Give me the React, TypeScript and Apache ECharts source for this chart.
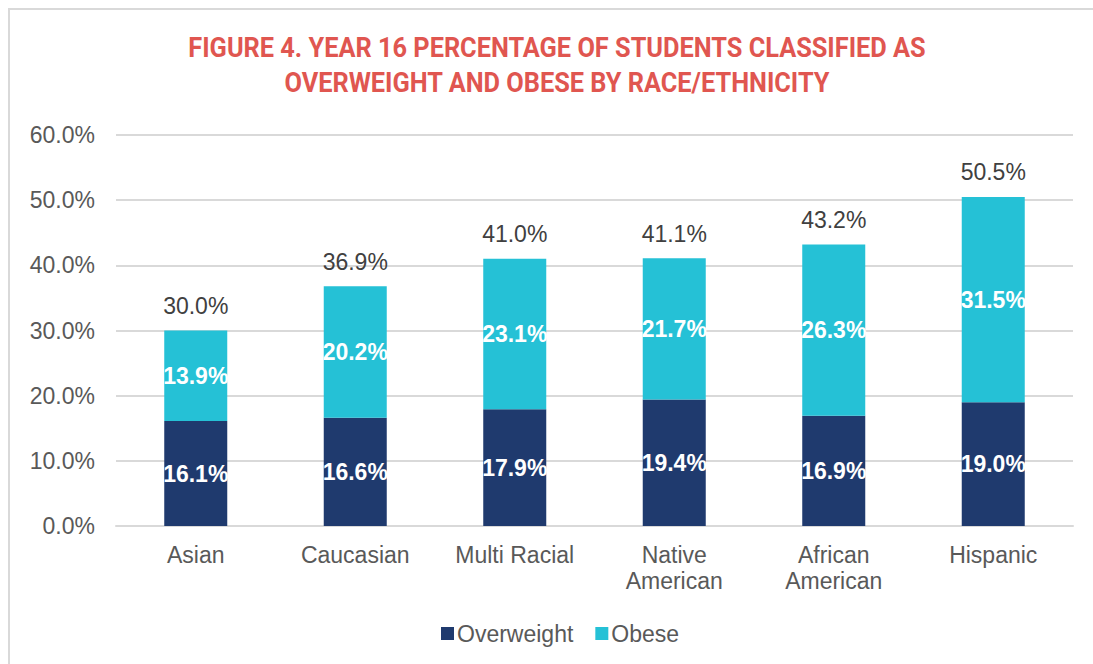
import React, { useEffect, useRef } from 'react';
import * as echarts from 'echarts';

const categories = ['Asian', 'Caucasian', 'Multi Racial', 'Native\nAmerican', 'African\nAmerican', 'Hispanic'];
const overweight = [16.1, 16.6, 17.9, 19.4, 16.9, 19.0];
const obese = [13.9, 20.2, 23.1, 21.7, 26.3, 31.5];
const totals = [30.0, 36.9, 41.0, 41.1, 43.2, 50.5];
const seriesNames = ['Overweight', 'Obese'];
const titleLines = [
  'FIGURE 4. YEAR 16 PERCENTAGE OF STUDENTS CLASSIFIED AS',
  'OVERWEIGHT AND OBESE BY RACE/ETHNICITY',
];

const FONT = '"Liberation Sans", Arial, sans-serif';

export default function App() {
  const ref = useRef<HTMLDivElement>(null);
  useEffect(() => {
    if (!ref.current) return;
    const chart = echarts.init(ref.current, null, { renderer: 'svg' });
    const titleEls = titleLines.map((t, i) => ({
      type: 'text',
      x: 557,
      y: 48 + i * 35,
      scaleX: 0.905,
      style: {
        text: t,
        x: 0,
        y: 0,
        align: 'center',
        verticalAlign: 'middle',
        fontFamily: 'Roboto, sans-serif',
        fontSize: 28,
        fontWeight: 'bold',
        fill: '#E05650',
      },
    }));
    chart.setOption({
      animation: false,
      backgroundColor: '#ffffff',
      graphic: [
        {
          type: 'rect',
          z: -10,
          shape: { x: 9, y: 9, width: 1200, height: 800 },
          style: { fill: 'none', stroke: '#d9d9d9', lineWidth: 2 },
        },
        ...titleEls,
      ],
      legend: {
        data: seriesNames,
        left: 436,
        top: 617,
        itemWidth: 13,
        itemHeight: 13,
        itemGap: 22,
        icon: 'rect',
        textStyle: { fontFamily: FONT, fontSize: 23, color: '#595959', padding: [0, 0, 0, -2] },
      },
      grid: { left: 116, right: 20, top: 135, bottom: 138, containLabel: false },
      xAxis: {
        type: 'category',
        data: categories,
        axisTick: { show: false },
        axisLine: { lineStyle: { color: '#d9d9d9', width: 2 } },
        axisLabel: {
          fontFamily: FONT,
          fontSize: 23,
          color: '#595959',
          margin: 16,
          lineHeight: 26,
          interval: 0,
        },
      },
      yAxis: {
        type: 'value',
        min: 0,
        max: 60,
        interval: 10,
        axisLine: { show: false },
        axisTick: { show: false },
        splitLine: { lineStyle: { color: '#d9d9d9', width: 2 } },
        axisLabel: {
          fontFamily: FONT,
          fontSize: 23,
          color: '#595959',
          margin: 21,
          formatter: (v: number) => v.toFixed(1) + '%',
        },
      },
      series: [
        {
          name: seriesNames[0],
          type: 'bar',
          stack: 'total',
          barWidth: '39.5%',
          data: overweight,
          itemStyle: { color: '#1F3A6E' },
          label: {
            show: true,
            position: 'inside',
            color: '#ffffff',
            fontFamily: FONT,
            fontWeight: 'bold',
            fontSize: 23,
            formatter: (p: any) => Number(p.value).toFixed(1) + '%',
          },
        },
        {
          name: seriesNames[1],
          type: 'bar',
          stack: 'total',
          data: obese,
          itemStyle: { color: '#25C1D6' },
          label: {
            show: true,
            position: 'inside',
            color: '#ffffff',
            fontFamily: FONT,
            fontWeight: 'bold',
            fontSize: 23,
            formatter: (p: any) => Number(p.value).toFixed(1) + '%',
          },
        },
        {
          name: 'Total',
          type: 'bar',
          stack: 'total',
          data: totals.map(() => 0),
          itemStyle: { color: 'transparent' },
          label: {
            show: true,
            position: 'top',
            distance: 13,
            color: '#404040',
            fontFamily: FONT,
            fontSize: 23,
            formatter: (p: any) => totals[p.dataIndex].toFixed(1) + '%',
          },
        },
      ],
    });
    return () => chart.dispose();
  }, []);
  return (
    <div
      ref={ref}
      style={{ position: 'fixed', left: 0, top: 0, width: 1093, height: 664 }}
    />
  );
}
